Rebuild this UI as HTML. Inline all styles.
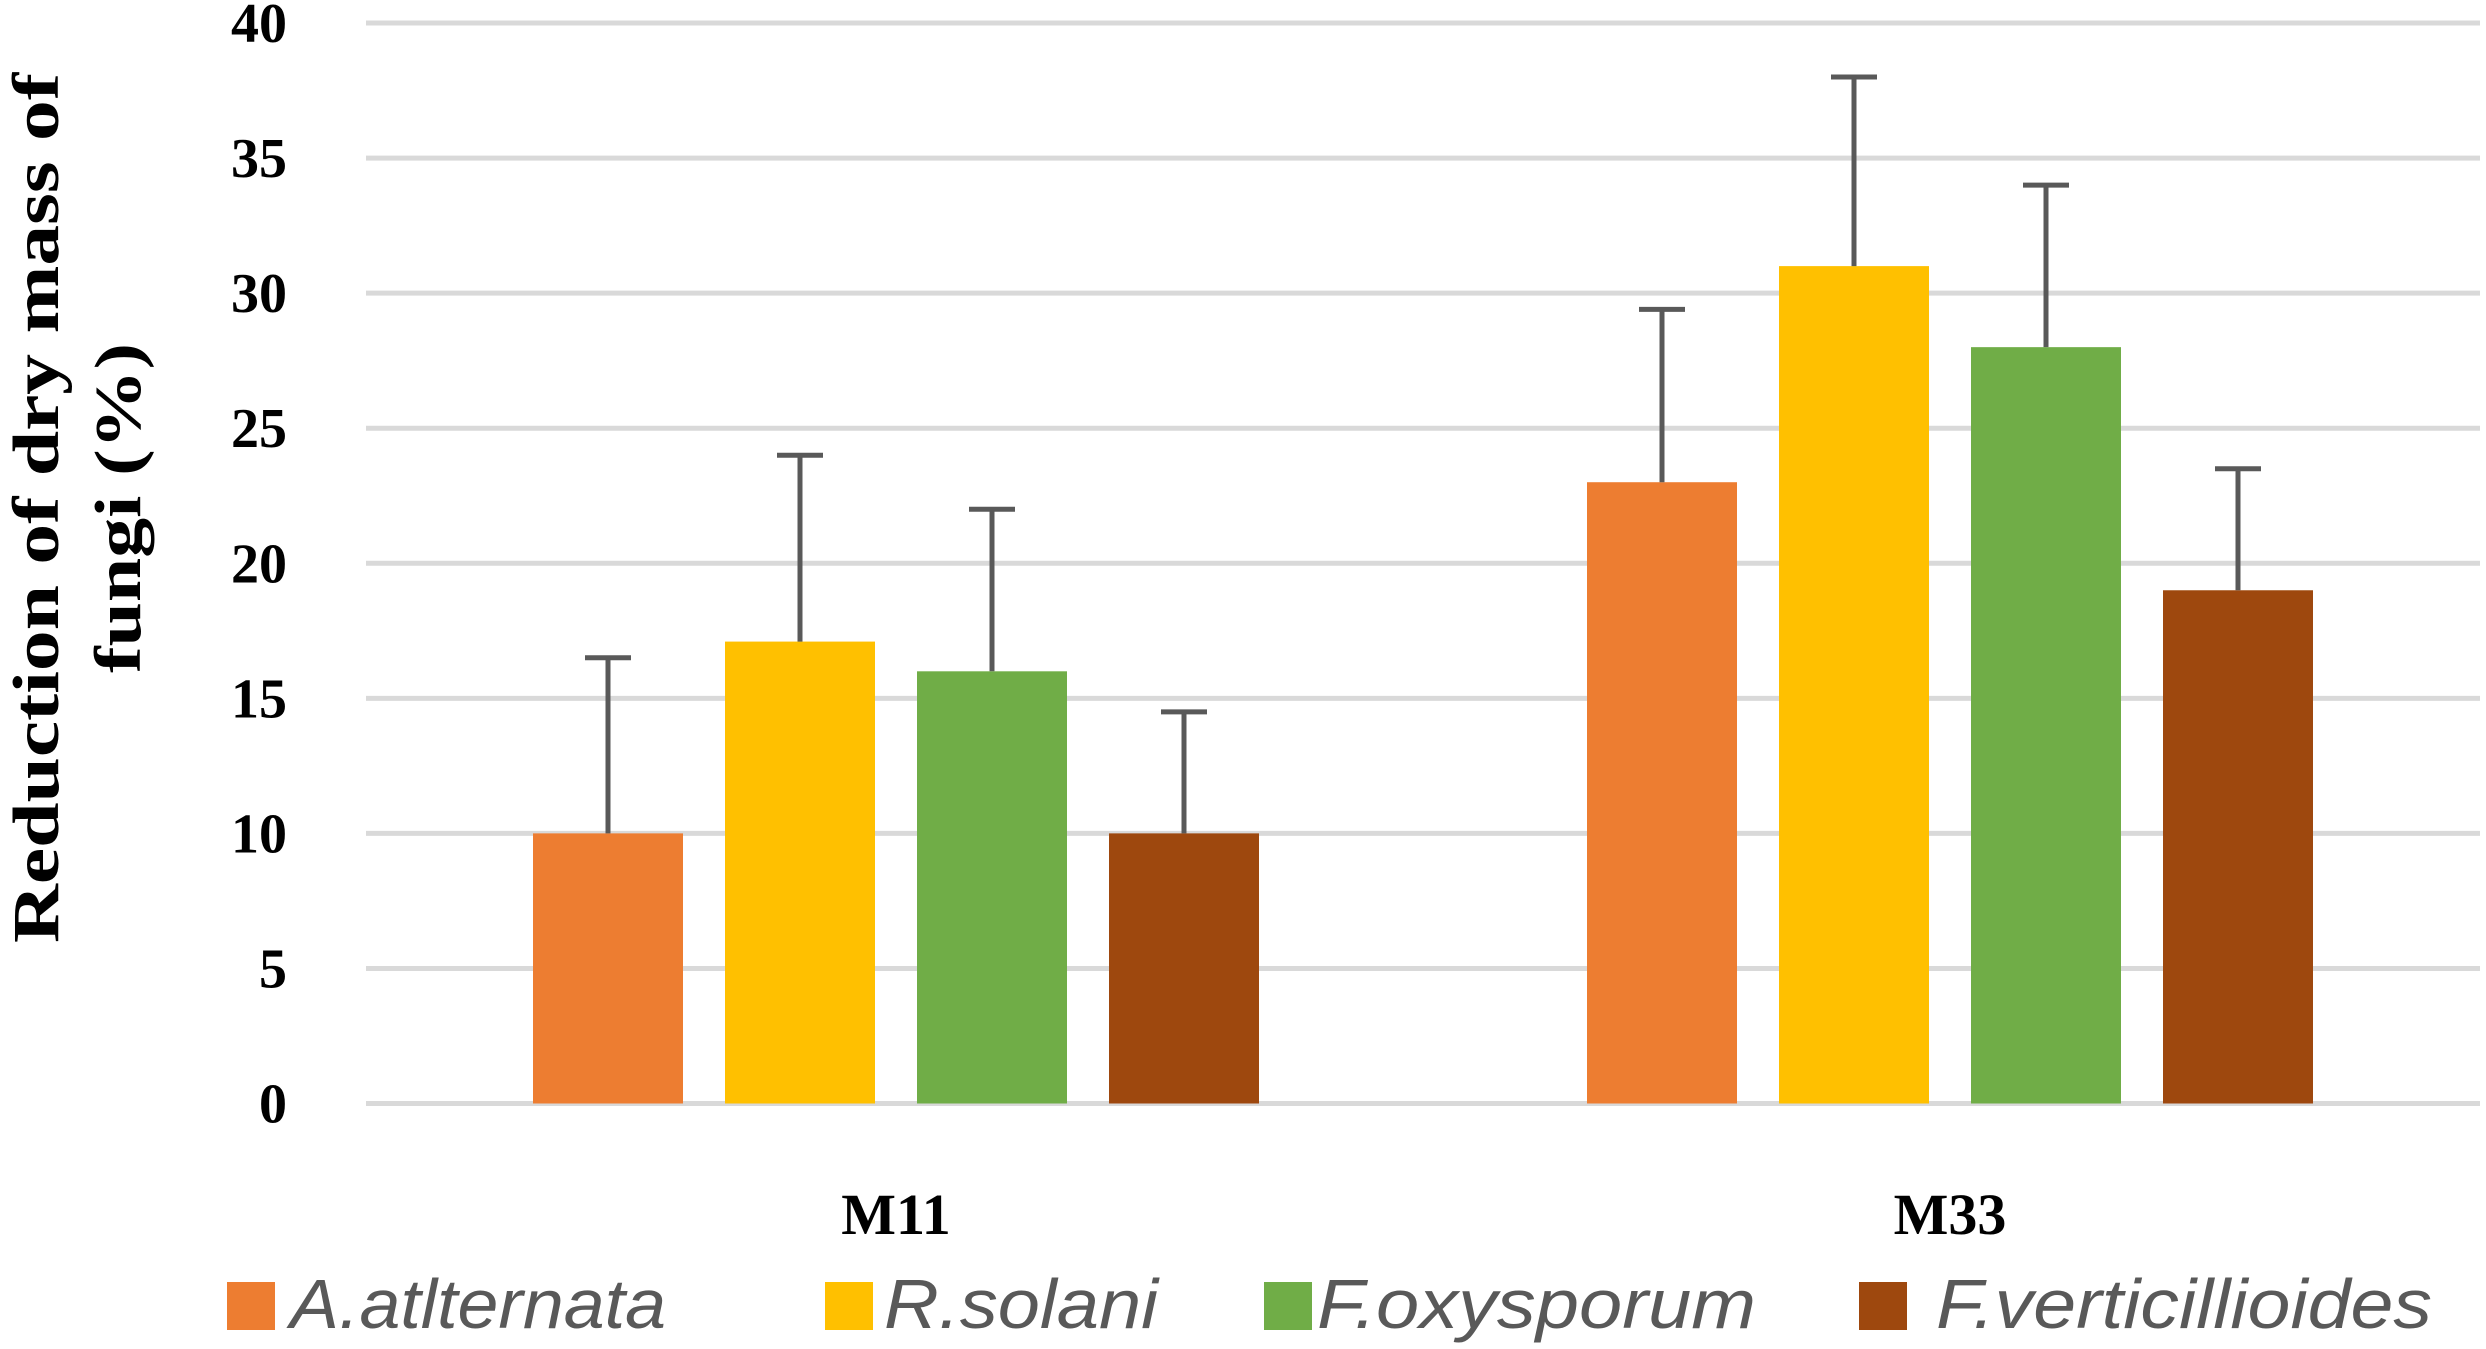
<!DOCTYPE html>
<html><head><meta charset="utf-8"><style>
html,body{margin:0;padding:0;background:#fff;}
svg{display:block;}
</style></head><body>
<svg id="chart" width="2486" height="1349" viewBox="0 0 2486 1349" xmlns="http://www.w3.org/2000/svg">
<g id="grid"></g>
<g id="yticks"></g>
<g id="bars"></g>
<g id="errs"></g>
<g id="xlabels"></g>
<g font-family="Liberation Serif, serif" font-weight="bold" font-size="66" fill="#000">
<text transform="translate(58,508) rotate(-90)" text-anchor="middle" textLength="870" lengthAdjust="spacingAndGlyphs">Reduction of dry mass of</text>
<text transform="translate(140,508) rotate(-90)" text-anchor="middle" textLength="330" lengthAdjust="spacingAndGlyphs">fungi (%)</text>
</g>
<g id="legend"></g>
</svg>
<script>
const categories = ["M11","M33"];
const seriesNames = ["A.atlternata","R.solani","F.oxysporum","F.verticillioides"];
const aAlt = [10, 23];
const rSol = [17.1, 31];
const fOxy = [16, 28];
const fVer = [10, 19];
const errTopA = [16.5, 29.4];
const errTopR = [24, 38];
const errTopO = [22, 34];
const errTopV = [14.5, 23.5];
const yTicks = [0,5,10,15,20,25,30,35,40];

const colors = ["#ED7D31","#FFC000","#70AD47","#9E480E"];
const series = [aAlt,rSol,fOxy,fVer];
const errs = [errTopA,errTopR,errTopO,errTopV];
const NS="http://www.w3.org/2000/svg";
const y0=1103.5, yTop=23, yMax=40;
function yS(v){return y0-(v/yMax)*(y0-yTop);}
const groupStart=[533,1587], pitch=192, bw=150;
function xS(ci,si){return groupStart[ci]+si*pitch;}
function mk(tag,attrs,parent){const e=document.createElementNS(NS,tag);for(const k in attrs)e.setAttribute(k,attrs[k]);parent.appendChild(e);return e;}

const grid=document.getElementById('grid');
yTicks.forEach(t=>{
  const l=mk('line',{x1:366,x2:2480,y1:yS(t),y2:yS(t),stroke:'#d9d9d9','stroke-width':5},grid);
  
  
  const tx=mk('text',{x:287,y:yS(t)+19,'text-anchor':'end','font-family':'Liberation Serif, serif','font-weight':'bold','font-size':56},document.getElementById('yticks'));
  tx.textContent=t;
  
  
});
const bars=document.getElementById('bars'), eg=document.getElementById('errs');
categories.forEach((c,ci)=>{
  series.forEach((s,si)=>{
    const x=xS(ci,si), v=s[ci];
    const r=mk('rect',{x:x,y:yS(v),width:bw,height:y0-yS(v),fill:colors[si]},bars);
    
    
    const cx=x+bw/2, et=yS(errs[si][ci]);
    const g=mk('g',{stroke:'#595959','stroke-width':5},eg);
    
    
    mk('line',{x1:cx,x2:cx,y1:yS(v),y2:et},g);
    mk('line',{x1:cx-23,x2:cx+23,y1:et,y2:et},g);
  });
  const mid=(xS(ci,0)+xS(ci,3)+bw)/2;
  const t=mk('text',{x:mid,y:1234,'text-anchor':'middle','font-family':'Liberation Serif, serif','font-weight':'bold','font-size':58},document.getElementById('xlabels'));
  t.textContent=c;
  
  
});
const leg=document.getElementById('legend');
const legSq=[227,825,1264,1859], legTx=[290,884,1317,1936], legW=[376,274,439,496];
seriesNames.forEach((n,i)=>{
  const g=mk('g',{},leg);
  
  
  mk('rect',{x:legSq[i],y:1282,width:48,height:48,fill:colors[i]},g);
  const t=mk('text',{x:legTx[i],y:1328,'font-family':'Liberation Sans, sans-serif','font-style':'italic','font-size':70,fill:'#595959',textLength:legW[i],lengthAdjust:'spacingAndGlyphs'},g);
  t.textContent=n;
});
</script>
</body></html>
